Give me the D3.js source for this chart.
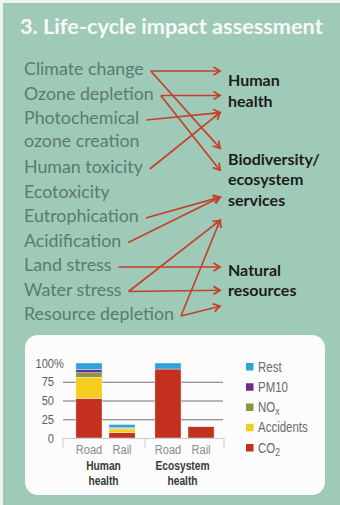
<!DOCTYPE html>
<html>
<head>
<meta charset="utf-8">
<script src="https://cdn.jsdelivr.net/npm/d3@7"></script>
<style>
	html, body { margin: 0; padding: 0; background: #eef4f1; }
	svg { display: block; }
</style>
</head>
<body>
<svg id="chart" width="340" height="505"></svg>
<script>
// --------------------------------------------------------------------
// data

const title = "3. Life-cycle impact assessment";

// impact categories, "\n" breaks a label over two lines
const categories = ["Climate change", "Ozone depletion", "Photochemical\nozone creation", "Human toxicity",
	"Ecotoxicity", "Eutrophication", "Acidification", "Land stress", "Water stress", "Resource depletion"];

const endpoints = ["Human\nhealth", "Biodiversity/\necosystem\nservices", "Natural\nresources"];

// [category, endpoint index, arrow head slot at that endpoint]
const links = [
	["Climate change", 0, 0],
	["Climate change", 1, 0],
	["Ozone depletion", 0, 1],
	["Ozone depletion", 1, 1],
	["Photochemical\nozone creation", 0, 2],
	["Human toxicity", 0, 2],
	["Eutrophication", 1, 2],
	["Acidification", 1, 2],
	["Land stress", 2, 0],
	["Water stress", 1, 3],
	["Water stress", 2, 1],
	["Resource depletion", 1, 3],
	["Resource depletion", 2, 2]
];

// small stacked bar chart
const groups = ["Human\nhealth", "Ecosystem\nhealth"];
const modes = ["Road", "Rail"];
const burdens = ["CO2", "Accidents", "NOx", "PM10", "Rest"];
// values per bar: human/road, human/rail, ecosystem/road, ecosystem/rail (%)
const co2 = [53, 7, 92, 15];
const accidents = [28, 5, 0, 0];
const nox = [6, 1, 0, 0];
const pm10 = [4, 1, 0, 0];
const rest = [9, 4, 8, 0];
const yTicks = [0, 25, 50, 75, 100];

// --------------------------------------------------------------------
// styles / layout

const bg = "#a0cab8", arrowRed = "#c3402d", labelGrey = "#5b7b6f";
const burdenColors = { CO2: "#c3301f", Accidents: "#f6cc1f", NOx: "#8e973d", PM10: "#6b2f8c", Rest: "#2ea3d6" };
const font = "Lato, 'Open Sans', sans-serif";
const narrow = "'Liberation Sans', Arial, sans-serif";
const squeeze = 0.82;	// no condensed face installed, so squeeze horizontally

// arrow head slots per endpoint, in label rows
const slotRows = [[0, 1, 1.7], [3.15, 4.05, 5.15, 6.1], [8, 8.95, 9.6]];
const endpointRows = [0.45, 3.67, 8.2];

const svg = d3.select("#chart");

function fitWidth(text, width) {
	const w = text.node().getComputedTextLength();
	const fs = parseFloat(text.attr("font-size"));
	text.attr("font-size", fs * width / w);
	return fs * width / w;
}

const at = (x, y) => `translate(${x},${y}) scale(${squeeze},1)`;

svg.append("rect")
	.attr("x", 3).attr("y", 3)
	.attr("width", 337).attr("height", 502)
	.attr("fill", bg);

const titleText = svg.append("text")
	.attr("x", 20).attr("y", 34)
	.attr("font-family", font)
	.attr("font-weight", 700)
	.attr("font-size", 20)
	.attr("fill", "#f7faf8")
	.text(title);
fitWidth(titleText, 303);

// --------------------------------------------------------------------
// left column and arrows

const rowY = d3.scaleLinear().domain([0, 10]).range([75, 320]);	// baselines
const centerY = r => rowY(r) - 4;

let row = 0;
const catRows = new Map();
categories.forEach(c => {
	catRows.set(c, row);
	row += c.split("\n").length;
});

const catG = svg.append("g")
	.attr("font-family", font)
	.attr("fill", labelGrey);

const catText = catG.selectAll("text")
	.data(categories)
	.join("text")
	.attr("x", 24)
	.attr("y", d => rowY(catRows.get(d)))
	.attr("font-size", 17);

catText.selectAll("tspan")
	.data(d => d.split("\n"))
	.join("tspan")
	.attr("x", 24)
	.attr("dy", (d, i) => i === 0 ? 0 : 23)
	.text(d => d);

// one common font size so that the longest label gets its width
const longest = catText.filter(d => d === "Resource depletion");
const catSize = fitWidth(longest, 150);
catText.attr("font-size", catSize);

const catEnd = new Map();
catText.each(function (d) {
	const first = d3.select(this).select("tspan").node();
	catEnd.set(d, 24 + first.getComputedTextLength());
});

const endX = 220, endLabelX = 228;

svg.append("defs").append("marker")
	.attr("id", "head")
	.attr("markerUnits", "userSpaceOnUse")
	.attr("viewBox", "-8 -5 10 10")
	.attr("refX", 0).attr("refY", 0)
	.attr("markerWidth", 10).attr("markerHeight", 10)
	.attr("orient", "auto")
	.append("path")
	.attr("d", "M-6.5,-4L0,0L-6.5,4")
	.attr("fill", "none")
	.attr("stroke", arrowRed)
	.attr("stroke-width", 1.8);

svg.append("g")
	.selectAll("line")
	.data(links)
	.join("line")
	.attr("x1", d => catEnd.get(d[0]) + 7)
	.attr("y1", d => centerY(catRows.get(d[0])))
	.attr("x2", endX)
	.attr("y2", d => centerY(slotRows[d[1]][d[2]]))
	.attr("stroke", arrowRed)
	.attr("stroke-width", 1.7)
	.attr("marker-end", "url(#head)");

const endText = svg.append("g")
	.attr("font-family", font)
	.attr("font-weight", 700)
	.attr("fill", "#1c1c1c")
	.selectAll("text")
	.data(endpoints)
	.join("text")
	.attr("x", endLabelX)
	.attr("y", (d, i) => rowY(endpointRows[i]))
	.attr("font-size", 15);

endText.selectAll("tspan")
	.data(d => d.split("\n"))
	.join("tspan")
	.attr("x", endLabelX)
	.attr("dy", (d, i) => i === 0 ? 0 : 20.5)
	.text(d => d);

const bio = endText.filter((d, i) => i === 1).select("tspan");
const endSize = fitWidth(bio, 100);
endText.attr("font-size", endSize);
bio.attr("font-size", null);

// --------------------------------------------------------------------
// bar chart panel

svg.append("rect")
	.attr("x", 25).attr("y", 335)
	.attr("width", 300).attr("height", 160)
	.attr("rx", 13)
	.attr("fill", "#fbfcfb");

const y = d3.scaleLinear().domain([0, 100]).range([438, 363]);

const xGroup = d3.scaleBand()
	.domain(groups)
	.range([66, 224]);

const xMode = d3.scaleBand()
	.domain(modes)
	.range([0, xGroup.bandwidth()])
	.paddingInner(0.21)
	.paddingOuter(0.3);

const table = [];
groups.forEach((g, gi) => modes.forEach((m, mi) => {
	const i = gi * modes.length + mi;
	table.push({ group: g, mode: m, CO2: co2[i], Accidents: accidents[i], NOx: nox[i], PM10: pm10[i], Rest: rest[i] });
}));

const series = d3.stack().keys(burdens)(table);

const plot = svg.append("g");

// grid lines
const [gx0, gx1] = xGroup.range();
plot.append("g")
	.attr("transform", `translate(${gx0 - 3},0)`)
	.call(d3.axisLeft(y)
		.tickValues(yTicks.filter(t => t > 0 && t < 100))
		.tickSizeInner(-(gx1 - gx0 + 2))
		.tickSizeOuter(0)
		.tickFormat(() => ""))
	.call(g => g.select(".domain").remove())
	.call(g => g.selectAll(".tick line").attr("stroke", "#707070").attr("stroke-width", 1));

// baseline and separators
const base = plot.append("g").attr("stroke", "#cacaca").attr("stroke-width", 1);
base.append("line")
	.attr("x1", gx0 - 3).attr("x2", gx1)
	.attr("y1", y(0) + 0.5).attr("y2", y(0) + 0.5);
base.selectAll("line.sep")
	.data([gx0 - 3, xGroup(groups[1]), gx1])
	.join("line")
	.attr("class", "sep")
	.attr("x1", d => d).attr("x2", d => d)
	.attr("y1", y(0)).attr("y2", y(0) + 10);

plot.append("g")
	.selectAll("g")
	.data(series)
	.join("g")
	.attr("fill", d => burdenColors[d.key])
	.selectAll("rect")
	.data(d => d.filter(p => p[1] > p[0]))
	.join("rect")
	.attr("x", d => xGroup(d.data.group) + xMode(d.data.mode))
	.attr("width", xMode.bandwidth())
	.attr("y", d => y(d[1]))
	.attr("height", d => y(d[0]) - y(d[1]))
	.attr("stroke", "#fbfcfb")
	.attr("stroke-width", 0.4);

// y labels
const yLab = plot.append("g")
	.attr("font-family", narrow)
	.attr("font-size", 13.5)
	.attr("fill", "#606060");
yLab.selectAll("text")
	.data(yTicks)
	.join("text")
	.attr("transform", d => at(54, y(d) + 4.5))
	.attr("text-anchor", "end")
	.text(d => d);
yLab.append("text")
	.attr("transform", at(54, y(100) + 4.5))
	.text("%");

// x labels
const xLab = plot.append("g").attr("font-family", narrow).attr("text-anchor", "middle");
xLab.selectAll("text.mode")
	.data(table)
	.join("text")
	.attr("class", "mode")
	.attr("transform", d => at(xGroup(d.group) + xMode(d.mode) + xMode.bandwidth() / 2, 454))
	.attr("font-size", 13.5)
	.attr("fill", "#8a8a8a")
	.text(d => d.mode);

// group labels, one text per line
xLab.selectAll("text.group")
	.data(groups.flatMap(g => g.split("\n").map((t, i) => ({ g, t, i }))))
	.join("text")
	.attr("class", "group")
	.attr("transform", d => at(xGroup(d.g) + xGroup.bandwidth() / 2 - 2, 470 + d.i * 14.5))
	.attr("font-size", 12.5)
	.attr("font-weight", 700)
	.attr("fill", "#3a3a3a")
	.text(d => d.t);

// legend
const legendKeys = burdens.slice().reverse();
const legendY = d3.scalePoint().domain(legendKeys).range([367, 448]);

const legend = svg.append("g")
	.attr("font-family", narrow)
	.attr("font-size", 14)
	.attr("fill", "#6a6a6a");

const item = legend.selectAll("g")
	.data(legendKeys)
	.join("g")
	.attr("transform", d => `translate(246,${legendY(d)})`);

item.append("rect")
	.attr("x", 0).attr("y", -4)
	.attr("width", 7.5).attr("height", 7.5)
	.attr("fill", d => burdenColors[d]);

const subs = { NOx: ["NO", "x"], CO2: ["CO", "2"] };
const itemText = item.append("text")
	.attr("transform", at(12, 4.5));
itemText.each(function (d) {
	const t = d3.select(this);
	if (subs[d]) {
		t.append("tspan").text(subs[d][0]);
		t.append("tspan").attr("dy", 3).attr("font-size", 10.5).text(subs[d][1]);
	} else {
		t.text(d);
	}
});
</script>
</body>
</html>
